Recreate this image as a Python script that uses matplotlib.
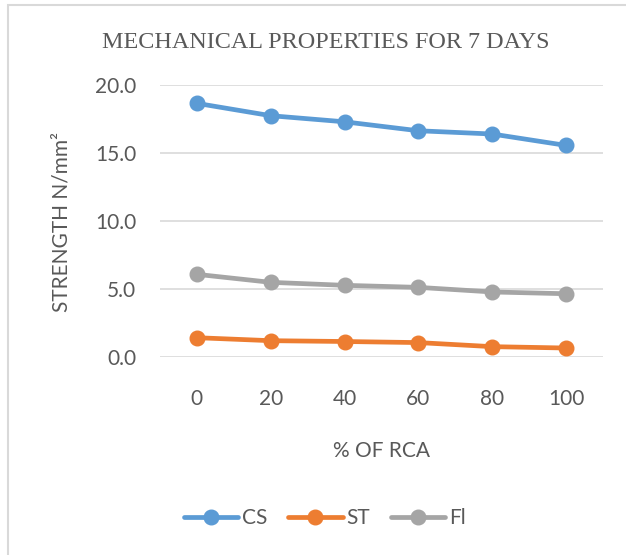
import matplotlib
matplotlib.use("Agg")
import matplotlib.pyplot as plt
from matplotlib.patches import Rectangle

# % of recycled coarse aggregate and 7-day strengths (N/mm2)
rca = ["0", "20", "40", "60", "80", "100"]
cs = [18.67, 17.76, 17.31, 16.65, 16.41, 15.57]
st = [1.40, 1.18, 1.12, 1.04, 0.74, 0.64]
fl = [6.07, 5.48, 5.26, 5.11, 4.77, 4.64]

plt.rcParams['font.family'] = ['Lato', 'DejaVu Sans']
txt = '#595959'
fs = 15

fig = plt.figure(figsize=(6.26, 5.55), dpi=100)
ax = fig.add_axes([160/626, 1-356.7/555, 443/626, 271.4/555])

x = range(len(rca))
for vals, col, name in [(cs, '#5B9BD5', 'CS'), (st, '#ED7D31', 'ST'), (fl, '#A5A5A5', 'Fl')]:
    ax.plot(x, vals, color=col, lw=3.4, marker='o', ms=10.5, label=name,
            solid_capstyle='round', zorder=3)

ax.set_xlim(-0.5, 5.5)
ax.set_ylim(0, 20)
ax.set_yticks([0, 5, 10, 15, 20])
ax.set_yticklabels([f"{v:.1f}" for v in [0, 5, 10, 15, 20]])
ax.set_xticks(list(x))
ax.set_xticklabels(rca)
ax.grid(axis='y', color='#d9d9d9', lw=1.2)
ax.set_axisbelow(True)
for s in ax.spines.values():
    s.set_visible(False)
ax.tick_params(length=0, labelsize=fs, colors=txt)
ax.tick_params(axis='y', pad=17)
ax.tick_params(axis='x', pad=23)

ax.set_xlabel("% OF RCA", fontsize=fs, color=txt, labelpad=23)
# y title placed directly on the figure
fig.text(68/626, 1-222/555, "STRENGTH N/mm²", fontsize=fs, color=txt,
         rotation=90, rotation_mode='anchor', ha='center', va='baseline')

fig.text(326/626, 1-42/555, "MECHANICAL PROPERTIES FOR 7 DAYS", family='Liberation Serif',
         fontsize=17.4, color=txt, ha='center', va='center')

leg = ax.legend(loc='center', bbox_to_anchor=(325/626, 1-518/555), bbox_transform=fig.transFigure,
                ncol=3, frameon=False, fontsize=fs, handlelength=2.6, columnspacing=1.0,
                handletextpad=0.2)
for t in leg.get_texts():
    t.set_color(txt)

fig.patches.append(Rectangle((7.5/626, -0.1), 1.2, 1.1 - 5.5/555, transform=fig.transFigure,
                             fill=False, ec='#d9d9d9', lw=1.5))

fig.savefig("out.png", dpi=100)
